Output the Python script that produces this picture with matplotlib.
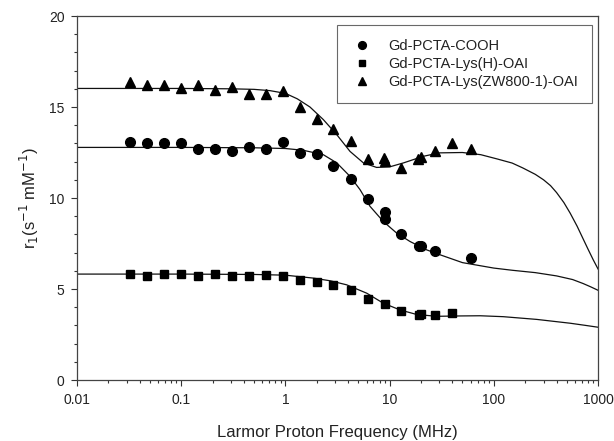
import numpy as np
import matplotlib
matplotlib.use('Agg')
from matplotlib import pyplot as plt
from matplotlib.ticker import MultipleLocator, LogLocator, NullFormatter, FixedLocator, FixedFormatter

plt.rcParams['font.family'] = ['Liberation Sans', 'DejaVu Sans']

# measured points (MHz, s-1 mM-1)
freq_ffc = [0.0323, 0.0473, 0.0689, 0.1, 0.145, 0.211, 0.307, 0.448, 0.652, 0.948,
            1.38, 2.0, 2.88, 4.24]

cooh_f = freq_ffc + [6.17, 9.0, 9.1, 12.9, 19.1, 20.0, 27.3, 60.0]
cooh_r = [13.05, 13.0, 13.02, 13.02, 12.72, 12.72, 12.58, 12.78, 12.69, 13.09,
          12.45, 12.41, 11.77, 11.03, 9.93, 9.23, 8.86, 8.0, 7.35, 7.38, 7.08, 6.71]

lysh_f = freq_ffc + [6.17, 9.0, 12.9, 19.1, 20.0, 27.3, 40.0]
lysh_r = [5.85, 5.74, 5.85, 5.85, 5.74, 5.85, 5.74, 5.70, 5.79, 5.70,
          5.52, 5.37, 5.22, 4.93, 4.47, 4.17, 3.77, 3.59, 3.64, 3.55, 3.68]

zw_f = freq_ffc + [6.17, 8.8, 9.1, 12.9, 18.6, 20.0, 27.3, 40.0, 60.0]
zw_r = [16.37, 16.22, 16.22, 16.05, 16.22, 15.96, 16.08, 15.72, 15.70, 15.9,
        15.02, 14.34, 13.79, 13.15, 12.13, 12.2, 12.05, 11.64, 12.15, 12.23, 12.59, 13.0, 12.69]

# fitted curves
fit_zw_f = [0.01, 0.1, 0.3, 0.5, 0.71, 1.0, 1.3, 1.72, 2.31, 3.11, 4.17, 5.6, 7.5, 10.0, 13.6,
            21.0, 30.0, 50.0, 75.0, 107.0, 150.0, 190.0, 250.0, 300.0, 350.0, 400.0, 470.0,
            540.0, 630.0, 720.0, 800.0, 900.0, 1000.0]
fit_zw_r = [16.02, 16.02, 16.0, 15.97, 15.9, 15.75, 15.45, 15.0, 14.31, 13.48, 12.56, 11.93, 11.68,
            11.71, 11.93, 12.29, 12.48, 12.5, 12.38, 12.15, 11.92, 11.65, 11.3, 11.0, 10.68,
            10.3, 9.75, 9.17, 8.45, 7.75, 7.2, 6.6, 6.1]

fit_cooh_f = [0.01, 0.1, 0.5, 1.0, 1.49, 2.31, 3.11, 4.17, 5.2, 6.49, 8.7, 11.7, 15.7, 22.7,
              30.5, 50.0, 100.0, 150.0, 250.0, 400.0, 570.0, 720.0, 850.0, 1000.0]
fit_cooh_r = [12.78, 12.78, 12.76, 12.72, 12.62, 12.38, 11.93, 11.19, 10.46, 9.54, 8.71, 8.07,
              7.61, 7.15, 6.88, 6.45, 6.15, 6.03, 5.9, 5.72, 5.52, 5.3, 5.12, 4.93]

fit_lysh_f = [0.01, 0.1, 0.5, 1.0, 1.85, 2.7, 3.87, 6.03, 8.7, 12.6, 18.2, 28.3, 47.0, 74.0,
              123.0, 258.0, 540.0, 760.0, 1000.0]
fit_lysh_r = [5.82, 5.82, 5.80, 5.76, 5.6, 5.45, 5.23, 4.77, 4.22, 3.85, 3.6, 3.5, 3.52, 3.53,
              3.48, 3.33, 3.12, 3.0, 2.9]

labels = ['Gd-PCTA-COOH', 'Gd-PCTA-Lys(H)-OAI', 'Gd-PCTA-Lys(ZW800-1)-OAI']

fig = plt.figure(figsize=(6.14, 4.41), dpi=100)
ax = fig.add_axes([0.1254, 0.1383, 0.8486, 0.8254])

lc = '#111111'
ax.plot(fit_zw_f, fit_zw_r, '-', color=lc, lw=0.9)
ax.plot(fit_cooh_f, fit_cooh_r, '-', color=lc, lw=0.9)
ax.plot(fit_lysh_f, fit_lysh_r, '-', color=lc, lw=0.9)

ax.plot(cooh_f, cooh_r, 'o', color='black', ms=7, ls='none', label=labels[0])
ax.plot(lysh_f, lysh_r, 's', color='black', ms=6, ls='none', label=labels[1])
ax.plot(zw_f, zw_r, '^', color='black', ms=7, ls='none', label=labels[2])

ax.set_xscale('log')
ax.set_xlim(0.01, 1000)
ax.set_ylim(0, 20)
ax.yaxis.set_major_locator(MultipleLocator(5))
ax.yaxis.set_minor_locator(MultipleLocator(1))
ax.xaxis.set_major_locator(FixedLocator([0.01, 0.1, 1, 10, 100, 1000]))
ax.xaxis.set_major_formatter(FixedFormatter(['0.01', '0.1', '1', '10', '100', '1000']))
ax.xaxis.set_minor_locator(LogLocator(base=10, subs=np.arange(2, 10)))
ax.xaxis.set_minor_formatter(NullFormatter())

ax.tick_params(which='both', direction='out', colors='#333333', labelcolor='#222222', labelsize=10, width=0.8)
ax.tick_params(which='major', length=4, pad=5)
ax.tick_params(which='minor', length=2.5)
for s in ax.spines.values():
    s.set_color('#444444')
    s.set_linewidth(0.9)

ax.set_xlabel('Larmor Proton Frequency (MHz)', fontsize=12, color='#222222', labelpad=13)
ax.set_ylabel(r'r$_1$(s$^{-1}$ mM$^{-1}$)', fontsize=12, color='#222222', labelpad=6)

leg = ax.legend(loc='upper right', bbox_to_anchor=(0.9885, 0.975), fontsize=10.5, frameon=True,
                fancybox=False, edgecolor='#444444', handlelength=1.6, handletextpad=1.0,
                borderpad=0.95, labelspacing=0.27, numpoints=1, borderaxespad=0, markerscale=0.8)
leg.get_frame().set_linewidth(0.8)
for t in leg.get_texts():
    t.set_color('#222222')

fig.savefig('out.png', dpi=100)
